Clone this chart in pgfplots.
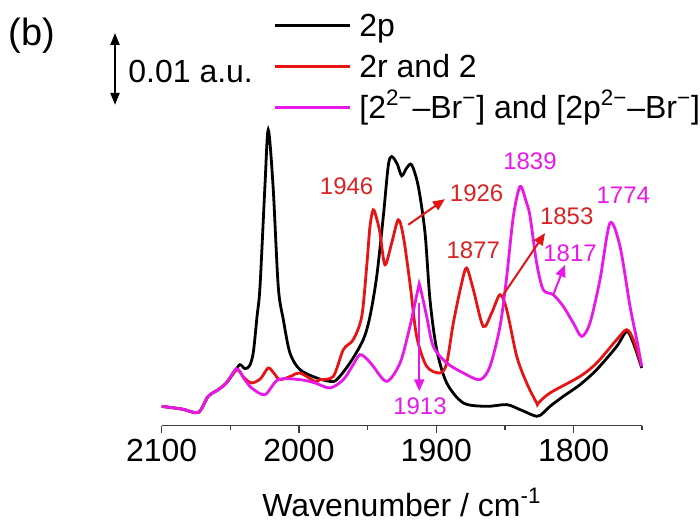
\documentclass[border=0pt]{standalone}
\usepackage{pgfplots}
\pgfplotsset{compat=1.18}
\usepackage{fontspec}
\setmainfont{Liberation Sans}
\usetikzlibrary{arrows.meta}
\definecolor{cred}{RGB}{230,20,20}
\definecolor{cmag}{RGB}{232,24,232}
\definecolor{tred}{RGB}{215,35,35}
\definecolor{taxis}{RGB}{60,60,60}
\newcommand{\fbig}{\fontsize{16}{19}\selectfont}
\newcommand{\fann}{\fontsize{12}{14}\selectfont}
\begin{document}
\begin{tikzpicture}
\begin{axis}[
  scale only axis, width=240.5pt, height=213pt,
  xmin=1750, xmax=2100, x dir=reverse, ymin=0, ymax=426,
  axis x line*=bottom, axis y line=none,
  xtick={1800,1900,2000,2100}, minor xtick={1750,1850,1950,2050},
  xtick align=outside, major tick length=3.5pt, minor tick length=2pt,
  tick style={taxis, line width=0.8pt},
  axis line style={taxis, line width=0.8pt},
  ticklabel style={font=\fbig},
  /pgf/number format/assume math mode=true,
  /pgf/number format/1000 sep={},
  xlabel={Wavenumber / cm\textsuperscript{-1}},
  xlabel style={font=\fbig, at={(axis description cs:0.5,0)}, anchor=center, yshift=-38.5pt},
  clip=false,
  legend cell align=left,
  legend style={draw=none, fill=none, at={(axis cs:2018.7,413.5)}, anchor=north west,
    inner sep=0pt, outer sep=0pt, row sep=4.5pt, column sep=4.2pt, font=\fbig,
    nodes={inner sep=0pt, text height=12pt, text depth=4pt}},
  legend image code/.code={\draw[#1] (0pt,1.6pt) -- (37.5pt,1.6pt);},
]
\addplot[black, line width=1.4pt, smooth, tension=0.5] coordinates {
(2100,19.3) (2085,16.5) (2073.3,13.3) (2066.1,29.3) (2058.8,36) (2052.7,43)
(2046.5,55) (2043.0,61) (2039.3,57) (2036,60) (2033.3,73) (2030.5,110)
(2028.4,139) (2024.8,240) (2022.4,296) (2018.9,240) (2015.1,139) (2011.4,106)
(2006.6,72.7) (1999.3,56) (1987.1,47.7) (1977.4,44.3) (1972.5,46) (1962.9,62.7)
(1953.2,86) (1948.3,109.3) (1943.4,149.3) (1938.6,209.3) (1935.0,260) (1932.5,269.3)
(1928.5,262) (1925.2,250) (1921.5,258) (1917.9,261) (1913.1,239.3) (1908.2,192.7)
(1904.6,126) (1899.7,76) (1892.4,42.7) (1880.3,22.7) (1863.3,19.3) (1848.7,21)
(1839.0,16) (1826.9,9.3) (1822,13) (1817.2,19.3) (1807.5,29.3) (1795.3,41)
(1783.2,56) (1768.6,79.3) (1761.3,94.3) (1756.5,82.7) (1750.4,57.7)
};
\addlegendentry{2p}
\addplot[cred, line width=1.4pt, smooth, tension=0.5] coordinates {
(2100,19.3) (2085,16.5) (2073.3,13.3) (2066.1,29.3) (2058.8,36) (2052.7,43)
(2045.4,56) (2040,48) (2034.5,42.7) (2028,47) (2022.4,57.7) (2018,52)
(2013.8,46) (2005,50) (1999.3,52.7) (1988.3,44.3) (1984.7,46) (1975.0,49.3)
(1967.7,76) (1960.5,86) (1954.3,109.3) (1950.7,159.3) (1948.3,199.3) (1945.9,216)
(1943.4,207) (1941.0,192.7) (1937.4,161) (1932.5,182.7) (1927.7,206) (1924.0,189.3)
(1919.2,142.7) (1914.3,89.3) (1907.0,59.3) (1897.3,52.7) (1892.4,62.7) (1887.6,102.7)
(1881.5,142.7) (1877.9,157.7) (1873.0,136) (1865.8,99.3) (1859.7,112.7) (1853.6,131)
(1848.7,116) (1841.4,69.3) (1834.2,42.7) (1826.9,22.7) (1825.7,22.7) (1817.2,32.7)
(1795.3,49.3) (1783.2,62.7) (1768.6,86) (1761.3,96) (1756.5,86) (1750.4,59.3)
};
\addlegendentry{2r and 2}
\addplot[cmag, line width=1.4pt, smooth, tension=0.5] coordinates {
(2100,19.3) (2085,16.5) (2073.3,13.3) (2066.1,29.3) (2058.8,36) (2052.7,43)
(2045.4,57) (2040,47) (2034.5,37.7) (2024.8,31) (2015.1,46) (1999.3,46)
(1988.3,42.7) (1977.4,37.7) (1967.7,46) (1961,60) (1955.6,71) (1950,66)
(1945.9,59.3) (1936.1,44.3) (1926.4,62.7) (1919.2,99.3) (1913.1,137.7) (1911.9,139.3)
(1907.0,109.3) (1902.2,79.3) (1892.4,62.7) (1880.3,52.7) (1868.2,46) (1860.9,59.3)
(1853.6,99.3) (1848.7,149.3) (1843.9,209.3) (1839.0,239.3) (1834.5,224) (1831.7,209.3)
(1826.9,162.7) (1822.1,136) (1814.8,131) (1807.5,119.3) (1800.2,102.7) (1794.1,89.3)
(1788.1,102.7) (1780.8,146) (1773.5,202.7) (1766.2,179.3) (1758.9,119.3) (1754.0,86)
(1750.4,59.3)
};
\addlegendentry{[2\textsuperscript{2−}–Br\textsuperscript{−}] and [2p\textsuperscript{2−}–Br\textsuperscript{−}]}
% annotations
\node[text=tred, font=\fann, inner sep=0pt] at (axis cs:1965.3,239.3) {1946};
\node[text=tred, font=\fann, inner sep=0pt] at (axis cs:1870.6,232.7) {1926};
\node[text=tred, font=\fann, inner sep=0pt] at (axis cs:1873.1,176) {1877};
\node[text=tred, font=\fann, inner sep=0pt] at (axis cs:1805.0,209.3) {1853};
\node[text=cmag, font=\fann, inner sep=0pt] at (axis cs:1831.8,264.3) {1839};
\node[text=cmag, font=\fann, inner sep=0pt] at (axis cs:1763.8,231) {1774};
\node[text=cmag, font=\fann, inner sep=0pt] at (axis cs:1802.6,172.7) {1817};
\node[text=cmag, font=\fann, inner sep=0pt] at (axis cs:1911.9,19.3) {1913};
\draw[cred, line width=1pt, -{Triangle[length=6pt,width=5pt]}] (axis cs:1920.4,201) -- (axis cs:1893.7,226.7);
\draw[cred, line width=1pt, -{Triangle[length=6pt,width=5pt]}] (axis cs:1851.2,131) -- (axis cs:1820.8,192.7);
\draw[cmag, line width=1pt, -{Triangle[length=6pt,width=5pt]}] (axis cs:1814.8,131) -- (axis cs:1806.3,161);
\draw[cmag, line width=1pt, -{Triangle[length=6pt,width=5pt]}] (axis cs:1912.4,123) -- (axis cs:1912.4,34.3);
% scale bar
\draw[black, line width=1pt, {Triangle[length=6pt,width=4.5pt]}-{Triangle[length=6pt,width=4.5pt]}] (axis cs:2134,393) -- (axis cs:2134,321);
\node[anchor=west, font=\fbig, inner sep=0pt] at (axis cs:2124.5,354.3) {0.01 a.u.};
\node[font=\fontsize{19}{22}\selectfont, inner sep=0pt] at (axis cs:2194.5,390) {(b)};
\coordinate (bbA) at (axis cs:2217.77,-98);
\coordinate (bbB) at (axis cs:1707.94,426);
\end{axis}
\pgfresetboundingbox
\path[use as bounding box] (bbA) rectangle (bbB);
\end{tikzpicture}
\end{document}
